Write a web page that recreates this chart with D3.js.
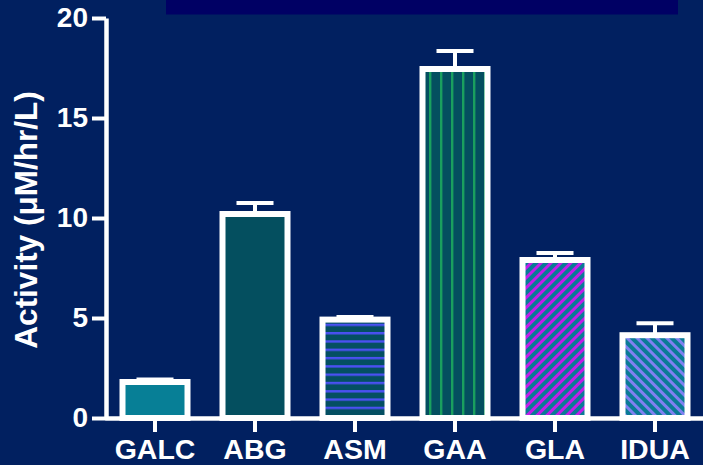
<!DOCTYPE html>
<html>
<head>
<meta charset="utf-8">
<script src="https://cdn.jsdelivr.net/npm/d3@7"></script>
<style>
  html, body { margin: 0; padding: 0; background: #012060; }
  svg { display: block; }
  text { font-family: "Liberation Sans", Arial, sans-serif; font-weight: bold; fill: #ffffff; }
</style>
</head>
<body>
<script>
// Enzyme activity per assay, mean and error (µM/hr/L)
const categories = ["GALC", "ABG", "ASM", "GAA", "GLA", "IDUA"];
const means = [1.8, 10.2, 4.92, 17.45, 7.9, 4.14];
const errors = [0.13, 0.55, 0.13, 0.9, 0.35, 0.6];
const yTicks = [0, 5, 10, 15, 20];

const W = 703, H = 465;
const bg = "#012060";

// fill style per bar: base colour plus optional line pattern
const fills = [
  { base: "#077f96" },
  { base: "#044f5f" },
  { base: "#044f62", line: "#4b50f2", kind: "h", period: 8.3, lw: 2.4 },
  { base: "#044f5f", line: "#1aa05e", kind: "v", period: 11, lw: 2.4 },
  { base: "#0a7a96", line: "#c21ee8", kind: "d45", period: 7, lw: 3 },
  { base: "#0a7a96", line: "#8080f0", kind: "d-45", period: 7, lw: 3 }
];

const svg = d3.select("body").append("svg")
  .attr("width", W).attr("height", H);

svg.append("rect").attr("width", W).attr("height", H).attr("fill", bg);

// banner strip across the top
svg.append("rect")
  .attr("x", 166).attr("y", 0).attr("width", 512).attr("height", 14.5)
  .attr("fill", "#000064");

const defs = svg.append("defs");
fills.forEach((f, i) => {
  if (!f.line) return;
  const p = defs.append("pattern")
    .attr("id", "pat" + i)
    .attr("patternUnits", "userSpaceOnUse")
    .attr("width", f.period).attr("height", f.period);
  if (f.kind === "d45") p.attr("patternTransform", "rotate(45)");
  if (f.kind === "d-45") p.attr("patternTransform", "rotate(-45)");
  p.append("rect").attr("width", f.period).attr("height", f.period).attr("fill", f.base);
  if (f.kind === "h") {
    p.append("rect").attr("x", 0).attr("y", 0).attr("width", f.period).attr("height", f.lw).attr("fill", f.line);
  } else {
    p.append("rect").attr("x", 0).attr("y", 0).attr("width", f.lw).attr("height", f.period).attr("fill", f.line);
  }
});

const x = d3.scaleBand()
  .domain(categories)
  .range([105, 705])
  .paddingInner(0.35)
  .paddingOuter(0.175);

const y = d3.scaleLinear().domain([0, 20]).range([418, 18]);

// error bars (drawn beneath the bars)
const capW = 37;
const eb = svg.append("g");
categories.forEach((c, i) => {
  const cx = x(c) + x.bandwidth() / 2;
  eb.append("line")
    .attr("x1", cx).attr("x2", cx)
    .attr("y1", y(means[i])).attr("y2", y(means[i] + errors[i]))
    .attr("stroke", "#fff").attr("stroke-width", 4);
  eb.append("line")
    .attr("x1", cx - capW / 2).attr("x2", cx + capW / 2)
    .attr("y1", y(means[i] + errors[i])).attr("y2", y(means[i] + errors[i]))
    .attr("stroke", "#fff").attr("stroke-width", 4);
});

// bars
svg.append("g").selectAll("rect")
  .data(categories)
  .join("rect")
  .attr("x", d => x(d))
  .attr("width", x.bandwidth())
  .attr("y", (d, i) => y(means[i]))
  .attr("height", (d, i) => y(0) - y(means[i]))
  .attr("fill", (d, i) => fills[i].line ? `url(#pat${i})` : fills[i].base)
  .attr("stroke", "#fff")
  .attr("stroke-width", 6);

// y axis
const yAxis = svg.append("g")
  .attr("transform", "translate(106,0)")
  .call(d3.axisLeft(y).tickValues(yTicks).tickSize(14).tickSizeOuter(0).tickPadding(4));
yAxis.select(".domain").attr("stroke", "#fff").attr("stroke-width", 4.5);
yAxis.selectAll(".tick line").attr("stroke", "#fff").attr("stroke-width", 4);
yAxis.selectAll(".tick text")
  .attr("font-size", 28).attr("font-family", null).attr("fill", "#fff");

// x axis
const xAxis = svg.append("g")
  .attr("transform", "translate(0,418)")
  .call(d3.axisBottom(x).tickSize(14).tickSizeOuter(0).tickPadding(7));
xAxis.select(".domain").attr("stroke", "#fff").attr("stroke-width", 4.5);
xAxis.selectAll(".tick line").attr("stroke", "#fff").attr("stroke-width", 4);
xAxis.selectAll(".tick text")
  .attr("font-size", 28.5).attr("font-family", null).attr("fill", "#fff");
svg.selectAll(".domain").raise();

// y axis title
svg.append("text")
  .attr("transform", "translate(37,220) rotate(-90)")
  .attr("text-anchor", "middle")
  .attr("font-size", 31.5)
  .text("Activity (μM/hr/L)");
</script>
</body>
</html>
